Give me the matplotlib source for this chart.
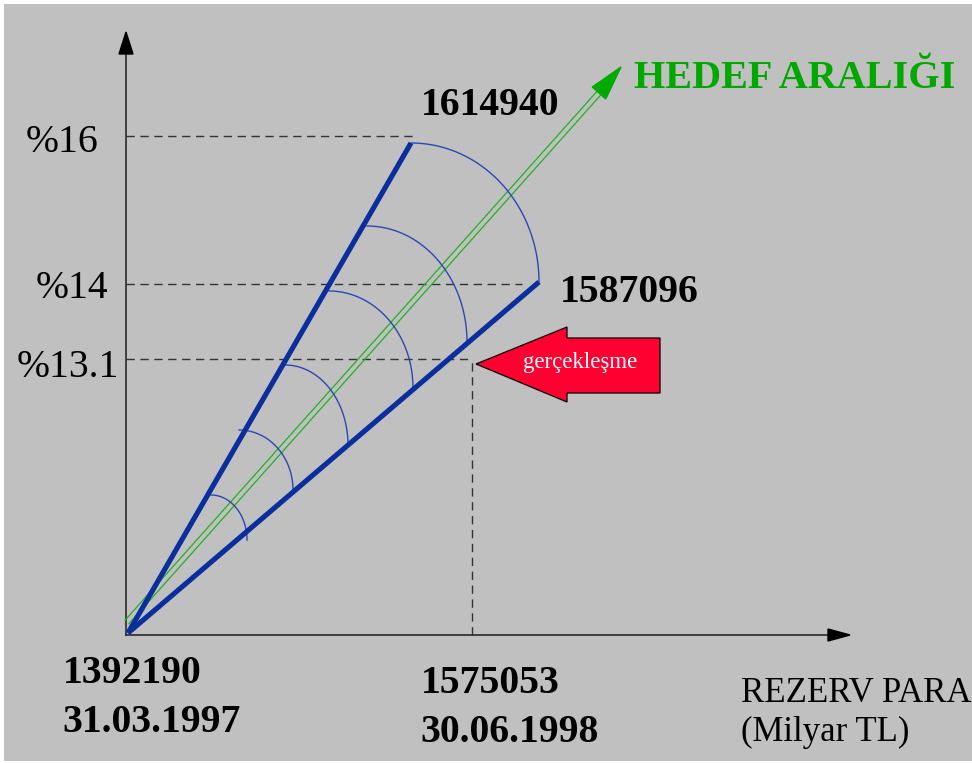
import numpy as np
import matplotlib
matplotlib.use("Agg")
import matplotlib.pyplot as plt
from matplotlib.patches import Polygon

# ---- schematic data (units: diagram units, origin at axes crossing, y up) ----
level_labels = ['%16', '%14', '%13.1']
level_values = [499, 351, 276]          # heights of the target levels
level_label_x = [-100, -90, -109]
level_label_base = [483, 337, 258]
level_line_end = [287, 396, 346]        # how far the dashed guide runs

ray_origin = (2, 2)
ray_upper_end = (285, 492)              # 1614940
ray_lower_end = (413, 353)              # 1587096

# arcs: (top point on upper ray) -> (right point on lower ray)
arc_top_x = [85, 113, 159, 203, 241, 285]
arc_top_y = [140, 205, 270, 344, 409, 492]
arc_right_x = [121, 167, 222, 287, 341, 413]
arc_right_y = [95, 145, 190, 247, 293, 353]

realised_x = 346                        # 1575053 at %13.1
realised_y = 276

target_start = (1, 13)
target_base = (473, 542)
target_tip = (495, 568)

x_axis_end = 724
y_axis_end = 603

value_labels = ['1614940', '1587096']
value_label_pos = [(295, 520), (434, 333)]
bottom_labels = [('1392190', '31.03.1997'), ('1575053', '30.06.1998')]
bottom_label_x = [-63, 295]
bottom_label_base = [-48, -58]
axis_title = ['REZERV PARA', '(Milyar TL)']
target_title = 'HEDEF ARALIĞI'
real_label = 'gerçekleşme'

# ---- figure ----
W, H = 972, 763
fig = plt.figure(figsize=(W / 100, H / 100), dpi=100, facecolor='white')
ax = fig.add_axes([4 / W, 2 / H, 968 / W, 757 / H])
ax.set_facecolor('#C0C0C0')
ax.set_xlim(-122, 846)
ax.set_ylim(-126, 631)
ax.axis('off')
ax.add_patch(plt.Rectangle((-122, -126), 968, 757, color='#C0C0C0', zorder=0))

serif = ['Liberation Serif', 'DejaVu Serif']
blue = '#0A2E9E'
arc_blue = '#2A48B4'
green_line = '#22B022'
green_text = '#00A800'

# axes with arrow heads
axis_col = '#2a2a2a'
ax.plot([0, x_axis_end - 20], [0, 0], color=axis_col, lw=1.2, zorder=3)
ax.plot([0, 0], [0, y_axis_end - 20], color=axis_col, lw=1.2, zorder=3)
ax.add_patch(Polygon([[x_axis_end, 0], [x_axis_end - 22, 6], [x_axis_end - 22, -6]],
                     closed=True, color='black', zorder=3))
ax.add_patch(Polygon([[0, y_axis_end], [-7, y_axis_end - 22], [7, y_axis_end - 22]],
                     closed=True, color='black', zorder=3))

# dashed guides
dash = dict(color='#333333', lw=1.0, linestyle=(0, (6, 4)), zorder=2)
for v, e in zip(level_values, level_line_end):
    ax.plot([0, e], [v, v], **dash)
ax.plot([realised_x, realised_x], [0, realised_y], **dash)

# level labels
for lab, yb, lx in zip(level_labels, level_label_base, level_label_x):
    ax.text(lx, yb, lab, fontsize=28.5, family=serif, ha='left', va='baseline', color='black')

# target double line + head
d = np.array(target_base) - np.array(target_start)
d = d / np.hypot(*d)
perp = np.array([-d[1], d[0]])
for s in (-2.6, 2.6):
    p0 = np.array(target_start) + s * perp
    p1 = np.array(target_base) + s * perp
    ax.plot([p0[0], p1[0]], [p0[1], p1[1]], color=green_line, lw=0.9, zorder=4)
base = np.array(target_base)
ax.add_patch(Polygon([target_tip, base + 9 * perp, base - 9 * perp], closed=True,
                     color='#00AA00', zorder=4))

# arcs (quarter ellipses)
t = np.linspace(0, np.pi / 2, 80)
for tx, ty, rx_, ry_ in zip(arc_top_x, arc_top_y, arc_right_x, arc_right_y):
    cx, cy = tx, ry_
    a, b = rx_ - tx, ty - ry_
    ax.plot(cx + a * np.cos(t), cy + b * np.sin(t), color=arc_blue, lw=1.0, zorder=5)

# rays
for end in (ray_upper_end, ray_lower_end):
    ax.plot([ray_origin[0], end[0]], [ray_origin[1], end[1]], color=blue, lw=3.7,
            solid_capstyle='butt', zorder=6)

# red arrow
tip_x, tip_y = realised_x + 4, realised_y - 5
red_pts = [[tip_x, tip_y], [441, 308], [441, 297], [534, 297], [534, 242],
           [441, 242], [441, 233]]
ax.add_patch(Polygon(red_pts, closed=True, facecolor='#FF0030', edgecolor='black',
                     lw=0.9, zorder=7))
ax.text(454, 267, real_label, fontsize=16.5, family=serif, color='white',
        ha='center', va='baseline', zorder=8)

# value labels
for lab, (x, y) in zip(value_labels, value_label_pos):
    ax.text(x, y, lab, fontsize=28.5, family=serif, weight='bold', ha='left', va='baseline')
for (l1, l2), x, y1 in zip(bottom_labels, bottom_label_x, bottom_label_base):
    ax.text(x, y1, l1, fontsize=28.5, family=serif, weight='bold', ha='left', va='baseline')
    ax.text(x - 1, y1 - 49, l2, fontsize=28.5, family=serif, weight='bold', ha='left', va='baseline')

ax.text(615, -67, axis_title[0], fontsize=25, family=serif, ha='left', va='baseline')
ax.text(615, -106, axis_title[1], fontsize=25, family=serif, ha='left', va='baseline')

ax.text(508, 547, target_title, fontsize=29, family=serif, weight='bold',
        color=green_text, ha='left', va='baseline')

fig.savefig('out.png', dpi=100, facecolor='white')
